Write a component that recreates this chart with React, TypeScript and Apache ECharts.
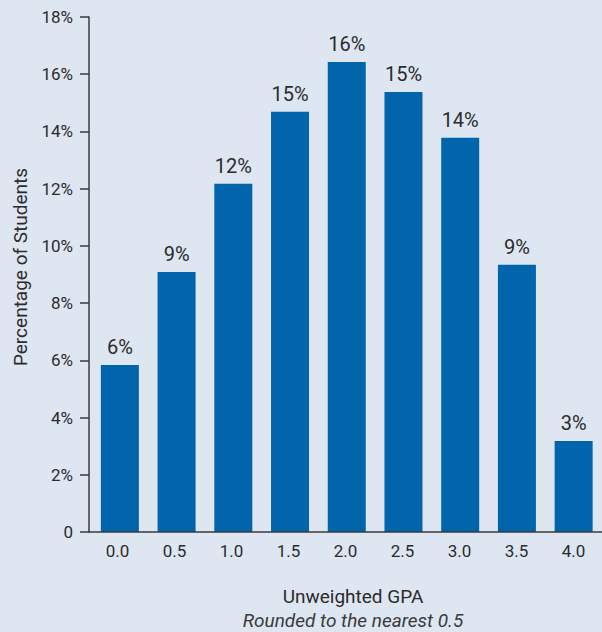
import React, { useEffect, useRef } from "react";
import * as echarts from "echarts";

const categories = ["0.0", "0.5", "1.0", "1.5", "2.0", "2.5", "3.0", "3.5", "4.0"];
const percentages = [5.84, 9.09, 12.17, 14.69, 16.43, 15.38, 13.78, 9.34, 3.18];
const yTicks = [0, 2, 4, 6, 8, 10, 12, 14, 16, 18];

const xTitle = "Unweighted GPA";
const xSubtitle = "Rounded to the nearest 0.5";
const yTitle = "Percentage of Students";

const FONT = "Roboto, 'Liberation Sans', sans-serif";
const TEXT = "#2b2b2b";
const AXIS = "#3a3a3a";

export default function App() {
  const ref = useRef<HTMLDivElement>(null);
  useEffect(() => {
    document.body.style.margin = "0";
    const chart = echarts.init(ref.current!, null, { renderer: "svg" });
    const yMin = yTicks[0];
    const yMax = yTicks[yTicks.length - 1];
    chart.setOption({
      animation: false,
      backgroundColor: "#dee6f2",
      textStyle: { fontFamily: FONT },
      grid: [
        { left: 89, top: 17, width: 513, height: 515 },
        { left: 91.5, top: 17, width: 513, height: 515 },
      ],
      xAxis: [
        {
          type: "category",
          gridIndex: 0,
          data: categories,
          axisLine: { lineStyle: { color: AXIS, width: 1.5 } },
          axisTick: { length: 8, lineStyle: { color: AXIS, width: 1.5 } },
          axisLabel: { color: TEXT, fontSize: 17, fontFamily: FONT, margin: 10 },
          z: 5,
        },
        {
          type: "category",
          gridIndex: 1,
          data: categories,
          show: false,
        },
      ],
      yAxis: [
        {
          type: "value",
          gridIndex: 0,
          min: yMin,
          max: yMax,
          interval: 2,
          axisLine: { show: true, lineStyle: { color: AXIS, width: 1.5 } },
          axisTick: { show: true, length: 9, lineStyle: { color: AXIS, width: 1.5 } },
          splitLine: { show: false },
          axisLabel: {
            color: TEXT,
            fontSize: 17,
            fontFamily: FONT,
            margin: 16,
            formatter: (v: number) => (v === 0 ? "0" : v + "%"),
          },
        },
        {
          type: "value",
          gridIndex: 1,
          min: yMin,
          max: yMax,
          interval: 2,
          show: false,
          splitLine: { show: false },
        },
      ],
      graphic: [
        {
          type: "text",
          x: 353,
          y: 596,
          style: { text: xTitle, fill: TEXT, font: `19px ${FONT}`, textAlign: "center", textVerticalAlign: "middle" },
        },
        {
          type: "text",
          x: 353,
          y: 620,
          style: { text: xSubtitle, fill: "#3a3a3a", font: `italic 19px ${FONT}`, textAlign: "center", textVerticalAlign: "middle" },
        },
        {
          type: "text",
          x: 20,
          y: 267,
          rotation: Math.PI / 2,
          style: { text: yTitle, fill: TEXT, font: `19px ${FONT}`, textAlign: "center", textVerticalAlign: "middle" },
        },
      ],
      series: [
        {
          type: "bar",
          xAxisIndex: 1,
          yAxisIndex: 1,
          data: percentages,
          barWidth: 38,
          itemStyle: { color: "#0065ab" },
          label: {
            show: true,
            position: "top",
            distance: 8,
            color: TEXT,
            fontSize: 20,
            fontFamily: FONT,
            formatter: (p: any) => Math.round(p.value) + "%",
          },
        },
      ],
    });
    return () => chart.dispose();
  }, []);
  return <div ref={ref} style={{ width: 602, height: 632 }} />;
}
